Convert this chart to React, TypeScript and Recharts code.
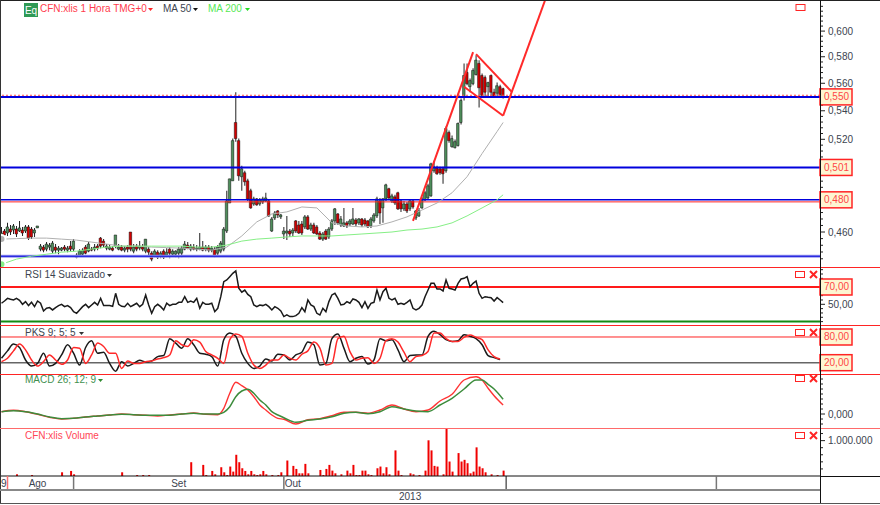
import React from 'react';
import { Bar, Cell, ComposedChart, Line, ReferenceLine, XAxis, YAxis } from 'recharts';

const SLOTS = 273;

const opens = [
  0.4557, 0.4606, 0.4594, 0.4618, 0.4612, 0.4618, 0.4606, 0.4612, 0.4606, 0.4631,
  0.4618, 0.4594, 0.4625, 0.4497, 0.4509, 0.4497, 0.4509, 0.4485, 0.4509, 0.4491,
  0.4491, 0.4509, 0.4491, 0.4515, 0.4497, 0.4449, 0.4461, 0.4467, 0.4509, 0.4485,
  0.4497, 0.4497, 0.4515, 0.4563, 0.4545, 0.4503, 0.4497, 0.4503, 0.4515, 0.4497,
  0.4509, 0.4491, 0.4509, 0.46, 0.4485, 0.4515, 0.4503, 0.4509, 0.4485, 0.4497,
  0.4473, 0.4461, 0.4479, 0.4455, 0.4485, 0.4461, 0.4497, 0.4467, 0.4467, 0.4473,
  0.4473, 0.4497, 0.4521, 0.4497, 0.4509, 0.4497, 0.4497, 0.4509, 0.4497, 0.4509,
  0.4491, 0.4497, 0.4473, 0.4485, 0.4497, 0.4606, 0.478, 0.4922, 0.5317, 0.5191,
  0.4949, 0.4975, 0.4922, 0.4858, 0.4774, 0.4806, 0.4774, 0.4787, 0.4793, 0.4793,
  0.4606, 0.4686, 0.473, 0.4693, 0.4588, 0.4594, 0.4606, 0.4594, 0.4668, 0.4643,
  0.4649, 0.4631, 0.4693, 0.4618, 0.4643, 0.4631, 0.4594, 0.4557, 0.4606, 0.457,
  0.4618, 0.4668, 0.4711, 0.4643, 0.4637, 0.4656, 0.4649, 0.4649, 0.4674, 0.4656,
  0.468, 0.4674, 0.4668, 0.4637, 0.4668, 0.4699, 0.4793, 0.4749, 0.4806, 0.4871,
  0.4793, 0.4819, 0.4845, 0.4793, 0.4743, 0.4774, 0.4743, 0.4793, 0.4686, 0.4699,
  0.4749, 0.48, 0.4812, 0.4825, 0.4988, 0.5008, 0.5001, 0.5001, 0.4988, 0.5247,
  0.515, 0.5143, 0.5157, 0.5317, 0.5496, 0.5681, 0.5575, 0.5597, 0.5665, 0.5749,
  0.5658, 0.5643, 0.5575, 0.5658, 0.5534, 0.5527, 0.5575, 0.556,
];
const closes = [
  0.4594, 0.4582, 0.4631, 0.46, 0.4637, 0.4588, 0.4625, 0.4594, 0.4631, 0.4563,
  0.457, 0.4612, 0.4637, 0.4515, 0.4491, 0.4527, 0.4521, 0.4533, 0.4491, 0.4503,
  0.4503, 0.4497, 0.4503, 0.4497, 0.4545, 0.4461, 0.4485, 0.4491, 0.4473, 0.4527,
  0.4491, 0.4509, 0.4503, 0.4515, 0.4521, 0.4515, 0.4509, 0.4491, 0.4582, 0.4509,
  0.4491, 0.4503, 0.4497, 0.4497, 0.4509, 0.4497, 0.4515, 0.4497, 0.4557, 0.4479,
  0.4438, 0.4485, 0.4449, 0.4473, 0.4449, 0.4479, 0.4473, 0.4485, 0.4485, 0.4497,
  0.4503, 0.4527, 0.4503, 0.4515, 0.4497, 0.4503, 0.4509, 0.4491, 0.4509, 0.4491,
  0.4503, 0.4455, 0.4509, 0.4533, 0.4618, 0.4793, 0.4935, 0.5191, 0.5205, 0.4955,
  0.5001, 0.4916, 0.4806, 0.4749, 0.4806, 0.4768, 0.48, 0.4806, 0.4812, 0.4699,
  0.468, 0.4717, 0.4705, 0.4705, 0.4606, 0.4606, 0.4588, 0.4612, 0.4606, 0.4594,
  0.4594, 0.4693, 0.4618, 0.4643, 0.4594, 0.4588, 0.4557, 0.4588, 0.4557, 0.4618,
  0.4668, 0.4743, 0.4656, 0.468, 0.4656, 0.4637, 0.4668, 0.468, 0.4649, 0.468,
  0.4643, 0.4649, 0.4631, 0.468, 0.4705, 0.4806, 0.4717, 0.4806, 0.4896, 0.4812,
  0.4825, 0.478, 0.4743, 0.4743, 0.4774, 0.473, 0.4793, 0.4755, 0.473, 0.473,
  0.4806, 0.4845, 0.489, 0.5034, 0.5014, 0.4968, 0.4975, 0.4968, 0.5275, 0.5191,
  0.5205, 0.5184, 0.531, 0.5474, 0.5658, 0.5597, 0.562, 0.5696, 0.5774, 0.5567,
  0.5511, 0.5534, 0.5605, 0.5534, 0.5504, 0.5582, 0.5518, 0.5496,
];
const highs = [
  0.4631, 0.4618, 0.4656, 0.4643, 0.4649, 0.4637, 0.4668, 0.4631, 0.4643, 0.4643,
  0.4631, 0.4625, 0.4637, 0.4527, 0.4521, 0.4539, 0.4533, 0.4545, 0.4527, 0.4515,
  0.4509, 0.4521, 0.4515, 0.4545, 0.4557, 0.4473, 0.4497, 0.4503, 0.4521, 0.4539,
  0.4509, 0.4527, 0.4527, 0.457, 0.4557, 0.4527, 0.4521, 0.4515, 0.4582, 0.4527,
  0.4521, 0.4515, 0.4521, 0.46, 0.4527, 0.4527, 0.4545, 0.4527, 0.4557, 0.4509,
  0.4485, 0.4497, 0.4491, 0.4485, 0.4497, 0.4503, 0.4509, 0.4497, 0.4491, 0.4509,
  0.4515, 0.4545, 0.4539, 0.4527, 0.4527, 0.4521, 0.4594, 0.4545, 0.4521, 0.4521,
  0.4515, 0.4509, 0.4521, 0.4545, 0.4631, 0.4858, 0.4935, 0.5205, 0.5534, 0.5205,
  0.5021, 0.4988, 0.4935, 0.4871, 0.4819, 0.4812, 0.4812, 0.4819, 0.4845, 0.4806,
  0.4693, 0.473, 0.4736, 0.4711, 0.4631, 0.4699, 0.4618, 0.4625, 0.4674, 0.4668,
  0.4668, 0.4705, 0.4705, 0.4656, 0.4656, 0.4643, 0.4606, 0.46, 0.4618, 0.4631,
  0.468, 0.4749, 0.4717, 0.4699, 0.4749, 0.4668, 0.468, 0.4749, 0.4686, 0.4686,
  0.4686, 0.4686, 0.4674, 0.4693, 0.4717, 0.4819, 0.4812, 0.4812, 0.4903, 0.4877,
  0.4838, 0.4832, 0.4851, 0.48, 0.4793, 0.4787, 0.48, 0.48, 0.4736, 0.4749,
  0.4819, 0.4858, 0.4903, 0.5042, 0.5055, 0.5021, 0.5014, 0.5014, 0.5289, 0.5261,
  0.5226, 0.5198, 0.5317, 0.5489, 0.5749, 0.5749, 0.5635, 0.5712, 0.5812, 0.5774,
  0.5673, 0.5658, 0.5612, 0.5665, 0.556, 0.5605, 0.559, 0.5567,
];
const lows = [
  0.4545, 0.457, 0.4576, 0.4582, 0.4588, 0.457, 0.46, 0.4576, 0.4594, 0.4551,
  0.4557, 0.457, 0.4625, 0.4485, 0.4479, 0.4485, 0.4491, 0.4473, 0.4473, 0.4467,
  0.4485, 0.4485, 0.4479, 0.4485, 0.4485, 0.4443, 0.4455, 0.4461, 0.4467, 0.4479,
  0.4485, 0.4485, 0.4491, 0.4503, 0.4509, 0.4491, 0.4491, 0.4485, 0.4503, 0.4491,
  0.4485, 0.4479, 0.4479, 0.4485, 0.4473, 0.4485, 0.4491, 0.4485, 0.4473, 0.4461,
  0.4426, 0.4449, 0.4438, 0.4443, 0.4438, 0.4449, 0.4443, 0.4455, 0.4449, 0.4443,
  0.4449, 0.4491, 0.4497, 0.4485, 0.4491, 0.4485, 0.4491, 0.4485, 0.4485, 0.4479,
  0.4479, 0.4449, 0.4461, 0.4473, 0.4485, 0.4594, 0.478, 0.4922, 0.5184, 0.4922,
  0.4858, 0.489, 0.4793, 0.4743, 0.4762, 0.4762, 0.4762, 0.4774, 0.4787, 0.4693,
  0.46, 0.4674, 0.4686, 0.468, 0.4557, 0.4551, 0.457, 0.4576, 0.4594, 0.4588,
  0.4582, 0.4618, 0.4612, 0.4606, 0.4588, 0.4582, 0.4551, 0.4545, 0.4551, 0.4557,
  0.4606, 0.4643, 0.4643, 0.4631, 0.4631, 0.4625, 0.4637, 0.4643, 0.4637, 0.4643,
  0.4631, 0.4637, 0.4625, 0.4625, 0.4656, 0.4686, 0.4649, 0.4656, 0.4793, 0.48,
  0.478, 0.4768, 0.4736, 0.4724, 0.473, 0.4717, 0.473, 0.4743, 0.4674, 0.4693,
  0.4743, 0.4793, 0.4806, 0.4819, 0.4975, 0.4962, 0.4962, 0.4903, 0.4975, 0.5177,
  0.5143, 0.5137, 0.515, 0.5303, 0.5474, 0.5585, 0.5534, 0.5585, 0.5658, 0.5423,
  0.5496, 0.5504, 0.5504, 0.5504, 0.5496, 0.5496, 0.5504, 0.5489,
];

const maIdx = [
  0, 5, 10, 15, 20, 25, 30, 35, 40, 45, 50, 55, 60, 65, 70, 75, 80, 85, 90, 95, 100, 105, 110,
  115, 120, 125, 130, 135, 140, 145, 150, 155, 160, 165, 167,
];
const ma50 = [
  0.4557, 0.456, 0.4563, 0.4563, 0.4557, 0.4551, 0.4539, 0.4527, 0.4515, 0.4515, 0.4509, 0.4506,
  0.4503, 0.4497, 0.4491, 0.4509, 0.4576, 0.4662, 0.4711, 0.4724, 0.4755, 0.4749, 0.4656, 0.4637,
  0.4631, 0.4637, 0.4662, 0.4693, 0.4736, 0.478, 0.4845, 0.4949, 0.5103, 0.5254, 0.5317,
];
const ma200 = [
  0.4408, 0.4438, 0.4455, 0.4467, 0.4479, 0.4485, 0.4497, 0.4509, 0.4515, 0.4515, 0.4515, 0.4515,
  0.4515, 0.4509, 0.4509, 0.4521, 0.4545, 0.4557, 0.4563, 0.457, 0.4576, 0.4576, 0.4576, 0.4582,
  0.4588, 0.4594, 0.46, 0.4612, 0.4618, 0.4631, 0.4656, 0.4699, 0.4749, 0.48, 0.4832,
];

const rsi = [
  51.2, 53.8, 56.9, 55.8, 55, 56.9, 54.6, 50, 53.1, 48.5, 52.3, 47.3, 53.8, 51.2, 42.3, 45.4, 46.2,
  43.5, 46.2, 48.5, 50, 47.3, 48.5, 46.2, 41.5, 39.6, 43.5, 47.3, 50, 46.2, 49.2, 52.3, 49.2, 56.9,
  48.5, 48.5, 48.5, 47.7, 62.7, 50, 47.7, 47.3, 51.2, 47.3, 49.2, 51.2, 47.3, 50, 60.8, 49.2, 39.6,
  47.3, 50, 47.3, 43.5, 51.2, 48.5, 50, 50, 52.3, 52.3, 58.8, 52.3, 53.8, 52.3, 56.9, 45.4, 52.3,
  50, 50, 51.2, 41.5, 45.4, 58.8, 76.2, 78.1, 81.9, 85.8, 88.5, 68.5, 64, 66.5, 61.5, 58.8, 49.2,
  47.3, 49.2, 48.5, 50, 47.3, 43.5, 47.3, 45.4, 42.3, 35.8, 37.7, 35.8, 35.8, 36.9, 39.6, 46.2,
  41.5, 55, 49.2, 47.3, 39.6, 37.7, 45.4, 41.5, 53.1, 60.8, 62.7, 56.9, 49.2, 50, 53.1, 51.2, 56.2,
  55, 52.3, 46.2, 53.1, 45.4, 51.2, 52.3, 66.5, 55, 64.6, 68.5, 56.9, 55, 56.9, 50, 51.2, 50, 52.3,
  55, 45.4, 43.5, 45.4, 49.2, 58.8, 66.5, 74.2, 74.2, 67.7, 67.7, 65.4, 78.1, 68.5, 67.7, 66.5,
  74.2, 79.2, 80, 81.9, 70.4, 74.2, 76.9, 62.7, 56.9, 58.8, 58.1, 57.7, 53.8, 57.7, 55, 51.9,
];

const pksIdx = [
  0, 2, 4, 6, 8, 10, 12, 14, 16, 18, 20, 22, 24, 26, 28, 30, 32, 34, 36, 38, 40, 42, 44, 46, 48, 50,
  52, 54, 56, 58, 60, 62, 64, 66, 68, 70, 72, 74, 76, 78, 80, 82, 84, 86, 88, 90, 92, 94, 96, 98,
  100, 102, 104, 106, 108, 110, 112, 114, 116, 118, 120, 122, 124, 126, 128, 130, 132, 134, 136,
  138, 140, 142, 144, 146, 148, 150, 152, 154, 156, 158, 160, 162, 164, 166,
];
const pksFast = [
  30.3, 47.6, 63.4, 55.5, 26.3, 12.1, 18.4, 42.1, 12.1, 18.4,
  38.1, 61.8, 42.1, 14.5, 55.5, 71.3, 42.1, 44.5, 18.4, 0.3,
  22.4, 12.1, 18.4, 25.5, 21.6, 23.9, 34.2, 36.6, 76, 65.8,
  53.9, 76, 61.8, 42.1, 39.7, 34.2, 12.1, 73.7, 89.4, 81.5,
  42.1, 18.4, 6.6, 12.1, 28.7, 23.9, 39.7, 38.1, 26.3, 38.1,
  44.5, 68.1, 61.8, 14.5, 18.4, 76, 87, 53.9, 22.4, 30.3,
  34.2, 16.8, 26.3, 76, 71.3, 73.7, 50, 22.4, 36.6, 38.1,
  38.1, 81.5, 93.4, 85.5, 73.7, 69.7, 71.3, 85.5, 81.5, 76,
  61.8, 36.6, 31.8, 27.1,
];
const pksSlow = [
  22.4, 30.3, 47.6, 63.4, 50, 26.3, 12.1, 22.4, 38.1, 26.3,
  16.1, 26.3, 55.5, 53.9, 18.4, 38.1, 65.8, 57.9, 42.1, 42.1,
  6.6, 23.9, 18.4, 18.4, 22.4, 23.9, 28.7, 31.8, 38.1, 71.3,
  61.8, 57.9, 73.7, 68.1, 46, 38.1, 30.3, 18.4, 73.7, 87,
  81.5, 42.1, 14.5, 6.6, 14.5, 26.3, 26.3, 38.1, 30.3, 26.3,
  39.7, 47.6, 68.1, 53.9, 14.5, 18.4, 76, 81.5, 46, 26.3,
  30.3, 31.8, 18.4, 30.3, 71.3, 76, 68.1, 44.5, 22.4, 34.2,
  36.6, 46, 89.4, 89.4, 76, 69.7, 69.7, 79.2, 84.7, 79.2,
  73.7, 50, 34.2, 28.7,
];

const macdIdx = [
  0, 4, 8, 12, 16, 20, 24, 28, 32, 36, 40, 44, 48, 52, 56, 60, 64, 68, 72, 74, 76, 78, 80, 82, 84,
  86, 88, 90, 92, 94, 98, 102, 106, 110, 114, 118, 122, 126, 130, 134, 138, 142, 146, 150, 154, 158,
  160, 162, 164, 167,
];
const macdSignal = [
  0.0023, 0.0033, 0.0023, 0, -0.003, -0.0047, -0.0043, -0.003, -0.002, -0.001, -0.0003, -0.0007,
  -0.0013, -0.0013, -0.0013, 0, 0.0007, 0, 0, 0.0017, 0.0073, 0.0173, 0.023, 0.0247, 0.0207, 0.014,
  0.009, 0.0023, -0.001, -0.0037, -0.0083, -0.0063, -0.005, -0.0027, 0.0007, 0.0017, 0.0003, 0.0023,
  0.0073, 0.005, 0.003, 0.0023, 0.009, 0.0157, 0.025, 0.034, 0.034, 0.0297, 0.025, 0.0147,
];
const macdLine = [
  0.0023, 0.0037, 0.0023, -0.0003, -0.0033, -0.005, -0.0043, -0.003, -0.002, -0.001, 0, -0.0007,
  -0.0013, -0.002, -0.001, 0, 0.001, -0.0003, -0.0007, 0.0057, 0.0207, 0.0317, 0.0283, 0.024, 0.0173,
  0.009, 0.004, -0.001, -0.0043, -0.0053, -0.01, -0.0057, -0.0047, -0.0017, 0.0017, 0.0017, 0.0007,
  0.004, 0.009, 0.005, 0.0023, 0.004, 0.013, 0.0197, 0.034, 0.0373, 0.034, 0.0257, 0.0183, 0.009,
];

// volume in thousands
const volume = [
  0, 0, 0, 0, 0, 48, 0, 0, 0, 0,
  29, 0, 0, 0, 0, 0, 0, 0, 0, 0,
  105, 0, 0, 143, 48, 0, 0, 0, 0, 0,
  0, 0, 0, 0, 0, 0, 0, 0, 0, 0,
  105, 0, 0, 0, 0, 29, 0, 29, 0, 29,
  0, 0, 0, 0, 0, 0, 0, 0, 0, 0,
  0, 0, 0, 390, 0, 0, 0, 314, 29, 0,
  143, 48, 0, 248, 105, 29, 267, 124, 600, 390,
  219, 143, 48, 143, 48, 29, 48, 143, 48, 0,
  29, 0, 29, 105, 0, 438, 0, 286, 200, 76,
  76, 343, 76, 0, 0, 0, 171, 29, 200, 314,
  152, 76, 0, 48, 0, 152, 76, 314, 29, 29,
  152, 152, 48, 29, 0, 219, 267, 76, 248, 48,
  0, 724, 152, 29, 0, 0, 76, 48, 0, 29,
  0, 152, 1009, 724, 286, 267, 0, 48, 1350, 409,
  124, 0, 648, 409, 457, 362, 76, 124, 810, 267,
  219, 105, 0, 48, 0, 29, 0, 152,
];

const priceLabels = [0.46, 0.52, 0.54, 0.56, 0.58, 0.6];
const priceMinor = [
  0.444, 0.448, 0.452, 0.456, 0.464, 0.468, 0.472, 0.476, 0.484, 0.488, 0.492, 0.496, 0.504, 0.508,
  0.512, 0.516, 0.524, 0.528, 0.532, 0.536, 0.544, 0.548, 0.552, 0.556, 0.564, 0.568, 0.572, 0.576,
  0.584, 0.588, 0.592, 0.596, 0.604, 0.608, 0.612, 0.616, 0.62,
];
const priceBoxes = [0.48, 0.501, 0.55];
const rsiMinor = [30, 35, 40, 45, 55, 60, 65, 75, 80, 85, 90];
const macdMinor = [
  -0.01, -0.005, 0.005, 0.01, 0.015, 0.02, 0.025, 0.03, 0.035,
];
const volumeMinor = [200000, 400000, 600000, 800000, 1200000];

// flag drawn on the chart: [candle index, price]
const flagRise = [[137, 0.4668], [157, 0.5835]];
const flagLower = [[154, 0.5574], [167, 0.5365]];
const flagUpper = [[158, 0.582], [170, 0.5534]];
const flagBreak = [[167, 0.5365], [181, 0.6252]];

const monthEdges = [2, 24, 94, 168, 238];
const monthEdgeColors = ['#ff7070', '#777777', '#777777', '#111111', '#777777'];
const monthLabelIdx = [0, 12, 59, 97];
const monthLabels = ['9', 'Ago', 'Set', 'Out'];

const at = (index: number[], values: number[], i: number) => {
  const k = index.indexOf(i);
  return k < 0 ? null : values[k];
};

const slots = Array.from({ length: SLOTS }, (_, i) => i);
const table = slots.map((i) => {
  const has = i < opens.length;
  return {
    idx: i,
    wick: has ? [lows[i], highs[i]] : null,
    body: has ? [Math.min(opens[i], closes[i]), Math.max(opens[i], closes[i])] : null,
    up: has && closes[i] >= opens[i],
    ma50: at(maIdx, ma50, i),
    ma200: at(maIdx, ma200, i),
    rsi: has ? rsi[i] : null,
    pksFast: at(pksIdx, pksFast, i),
    pksSlow: at(pksIdx, pksSlow, i),
    macdLine: at(macdIdx, macdLine, i),
    macdSignal: at(macdIdx, macdSignal, i),
    volume: has && volume[i] > 0 ? volume[i] * 1000 : null,
  };
});

const FONT = '"Liberation Sans", Arial, sans-serif';
const TEXT = '#3c4450';
const RED = '#ff2424';

const axisTick = (labels: number[], boxes: number[], fmt: (v: number) => string) => (props: any) => {
  const { x, y, payload } = props;
  const v = payload.value;
  if (boxes.includes(v)) {
    return (
      <g>
        <rect x={x} y={y - 8} width={32} height={16} fill="#fdf6d2" stroke={RED} strokeWidth={1.5} />
        <text x={x + 4} y={y + 3.5} fontSize={10} fontFamily={FONT} fill="#ff4646">{fmt(v)}</text>
      </g>
    );
  }
  const major = labels.includes(v);
  return (
    <g>
      <line x1={x} x2={x + (major ? 5 : 3)} y1={y} y2={y} stroke="#222" />
      {major && <text x={x + 8} y={y + 3.5} fontSize={10} fontFamily={FONT} fill={TEXT}>{fmt(v)}</text>}
    </g>
  );
};

const comma3 = (v: number) => v.toFixed(3).replace('.', ',');
const comma2 = (v: number) => v.toFixed(2).replace('.', ',');
const dotted = (v: number) => v.toLocaleString('de-DE');

const timeTick = (props: any) => {
  const { x, y, payload } = props;
  const e = monthEdges.indexOf(payload.value);
  if (e >= 0) {
    return <line x1={x} x2={x} y1={y} y2={y + 14} stroke={monthEdgeColors[e]} strokeWidth={e === 3 ? 1 : 1.5} />;
  }
  const l = monthLabelIdx.indexOf(payload.value);
  return (
    <text x={l === 0 ? 1 : x} y={y + 11} textAnchor={l === 0 ? 'start' : 'middle'} fontSize={10} fontFamily={FONT} fill={TEXT}>
      {monthLabels[l]}
    </text>
  );
};

const Panel = ({ top, height, children }: { top: number; height: number; children: React.ReactNode }) => (
  <div style={{ position: 'absolute', left: 0, top }}>
    <ComposedChart width={880} height={height} data={table} margin={{ top: 0, right: 0, bottom: 0, left: 0 }}>
      {children}
    </ComposedChart>
  </div>
);

const flagLine = (pts: number[][], key: string) => (
  <ReferenceLine
    key={key}
    segment={[{ x: pts[0][0], y: pts[0][1] }, { x: pts[1][0], y: pts[1][1] }]}
    stroke="#ff2a2a"
    strokeWidth={2}
    ifOverflow="visible"
  />
);

const Label = ({ x, y, color, text }: { x: number; y: number; color: string; text: string }) => (
  <div style={{ position: 'absolute', left: x, top: y, color, fontSize: 10, fontFamily: FONT, lineHeight: '12px', whiteSpace: 'nowrap' }}>
    {text}
  </div>
);

const panelIcons = [271, 329, 375, 432];
const borders = [267, 325, 374, 428];
const arrows = [[148, 8, RED], [193, 8, '#111'], [245, 8, '#22dd22'], [107, 274, '#333'], [79, 332, '#333'], [98, 379, '#2f8a2f']];

const Chrome = () => (
  <svg width={880} height={505} style={{ position: 'absolute', left: 0, top: 0, pointerEvents: 'none' }}>
    <line x1={0} x2={880} y1={0.5} y2={0.5} stroke="#222" />
    <line x1={0.5} x2={0.5} y1={0} y2={503} stroke="#333" />
    {borders.map((y) => (
      <line key={y} x1={0} x2={880} y1={y + 0.5} y2={y + 0.5} stroke={y === 428 ? '#ff6a6a' : RED} />
    ))}
    <line x1={820.5} x2={820.5} y1={0} y2={503} stroke="#111" />
    <line x1={820} x2={880} y1={476.5} y2={476.5} stroke="#111" />
    <line x1={0} x2={820} y1={490} y2={490} stroke="#888" strokeWidth={2} />
    <line x1={0} x2={880} y1={503.5} y2={503.5} stroke="#555" />
    <rect x={796} y={4.5} width={9} height={6} fill="none" stroke={RED} />
    {panelIcons.map((y) => (
      <g key={y} stroke={RED} fill="none">
        <rect x={795.5} y={y + 0.5} width={9} height={6} />
        <path d={`M810 ${y}l7 7M817 ${y}l-7 7`} strokeWidth={2} />
      </g>
    ))}
    <rect x={24} y={3} width={14} height={14} fill="#2f9a55" />
    <text x={31} y={13.5} textAnchor="middle" fontSize={10} fontFamily={FONT} fill="#ffffff">Eq</text>
    {arrows.map(([x, y, c]) => (
      <path key={`${x}-${y}`} d={`M${x} ${y}h5l-2.5 3z`} fill={c as string} />
    ))}
  </svg>
);

export default function App() {
  return (
    <div style={{ position: 'absolute', left: 0, top: 0, width: 880, height: 505, overflow: 'hidden', background: '#fff' }}>
      <Panel top={0} height={267}>
        <XAxis dataKey="idx" scale="band" hide />
        <XAxis xAxisId="wick" dataKey="idx" scale="band" hide />
        <YAxis
          orientation="right"
          width={60}
          scale="log"
          domain={[0.4392, 0.6252]}
          allowDataOverflow
          ticks={[...priceMinor, ...priceLabels, ...priceBoxes]}
          interval={0}
          tickSize={0}
          tickMargin={0}
          tickLine={false}
          axisLine={false}
          tick={axisTick(priceLabels, priceBoxes, comma3)}
        />
        <ReferenceLine y={0.5512} stroke="#ff5050" strokeDasharray="2 2" />
        <ReferenceLine y={0.55} stroke="#0000dd" strokeWidth={2} />
        <ReferenceLine y={0.501} stroke="#0000dd" strokeWidth={2} />
        <ReferenceLine y={0.4787} stroke="#ff2424" />
        <ReferenceLine y={0.48} stroke="#0000dd" strokeWidth={1.5} />
        <ReferenceLine y={0.4455} stroke="#9a9aee" strokeWidth={3} />
        <ReferenceLine y={0.4455} stroke="#0000dd" strokeWidth={1} />
        <Line dataKey="ma50" stroke="#b0b0b0" strokeWidth={1} dot={false} connectNulls isAnimationActive={false} />
        <Line dataKey="ma200" stroke="#86ef86" strokeWidth={1} dot={false} connectNulls isAnimationActive={false} />
        <Bar xAxisId="wick" dataKey="wick" barSize={1} fill="#222" isAnimationActive={false} />
        <Bar dataKey="body" barSize={2.5} stroke="#111" strokeWidth={0.5} isAnimationActive={false}>
          {table.map((d) => (
            <Cell key={d.idx} fill={d.up ? '#4f8f5c' : '#d40000'} />
          ))}
        </Bar>
        {flagLine(flagRise, 'rise')}
        {flagLine(flagLower, 'lower')}
        {flagLine(flagUpper, 'upper')}
        {flagLine(flagBreak, 'break')}
      </Panel>

      <Panel top={267} height={58}>
        <XAxis dataKey="idx" scale="band" hide />
        <YAxis
          orientation="right"
          width={60}
          domain={[26.1, 93.1]}
          allowDataOverflow
          ticks={[...rsiMinor, 50, 70]}
          interval={0}
          tickSize={0}
          tickMargin={0}
          tickLine={false}
          axisLine={false}
          tick={axisTick([50], [70], comma2)}
        />
        <ReferenceLine y={70} stroke="#ff1a1a" strokeWidth={2} />
        <ReferenceLine y={30} stroke="#128a12" strokeWidth={2} />
        <Line dataKey="rsi" stroke="#1a1a1a" strokeWidth={1.5} dot={false} isAnimationActive={false} />
      </Panel>

      <Panel top={325} height={49}>
        <XAxis dataKey="idx" scale="band" hide />
        <YAxis
          orientation="right"
          width={60}
          domain={[-6.4, 108]}
          allowDataOverflow
          ticks={[20, 80]}
          interval={0}
          tickSize={0}
          tickMargin={0}
          tickLine={false}
          axisLine={false}
          tick={axisTick([], [20, 80], comma2)}
        />
        <ReferenceLine y={80} stroke="#ff2424" />
        <ReferenceLine y={20} stroke="#666" strokeWidth={1.5} />
        <Line dataKey="pksFast" type="monotone" stroke="#1a1a1a" strokeWidth={1.5} dot={false} connectNulls isAnimationActive={false} />
        <Line dataKey="pksSlow" type="monotone" stroke="#ff2a2a" strokeWidth={1.5} dot={false} connectNulls isAnimationActive={false} />
      </Panel>

      <Panel top={374} height={54}>
        <XAxis dataKey="idx" scale="band" hide />
        <YAxis
          orientation="right"
          width={60}
          domain={[-0.014, 0.04]}
          allowDataOverflow
          ticks={[...macdMinor, 0]}
          interval={0}
          tickSize={0}
          tickMargin={0}
          tickLine={false}
          axisLine={false}
          tick={axisTick([0], [], comma3)}
        />
        <Line dataKey="macdLine" type="monotone" stroke="#ff3434" strokeWidth={1.4} dot={false} connectNulls isAnimationActive={false} />
        <Line dataKey="macdSignal" type="monotone" stroke="#3c8c3c" strokeWidth={1.5} dot={false} connectNulls isAnimationActive={false} />
      </Panel>

      <Panel top={428} height={62}>
        <XAxis
          dataKey="idx"
          scale="band"
          height={14}
          ticks={[...monthEdges, ...monthLabelIdx]}
          interval={0}
          tickSize={0}
          tickMargin={0}
          tickLine={false}
          axisLine={{ stroke: '#111' }}
          tick={timeTick}
        />
        <YAxis
          orientation="right"
          width={60}
          domain={[0, 1357000]}
          allowDataOverflow
          ticks={[...volumeMinor, 1000000]}
          interval={0}
          tickSize={0}
          tickMargin={0}
          tickLine={false}
          axisLine={false}
          tick={axisTick([1000000], [], dotted)}
        />
        <Bar dataKey="volume" barSize={2} fill="#f00000" isAnimationActive={false} />
      </Panel>

      <Chrome />

      <Label x={40} y={3} color="#ff3c4c" text="CFN:xlis 1 Hora TMG+0" />
      <Label x={163} y={3} color={TEXT} text="MA 50" />
      <Label x={208} y={3} color="#55e855" text="MA 200" />
      <Label x={25} y={269} color={TEXT} text="RSI 14 Suavizado" />
      <Label x={25} y={327} color={TEXT} text="PKS 9; 5; 5" />
      <Label x={25} y={374} color="#3f8f4f" text="MACD 26; 12; 9" />
      <Label x={25} y={430} color="#ff4656" text="CFN:xlis Volume" />
      <Label x={399} y={491} color={TEXT} text="2013" />
    </div>
  );
}
